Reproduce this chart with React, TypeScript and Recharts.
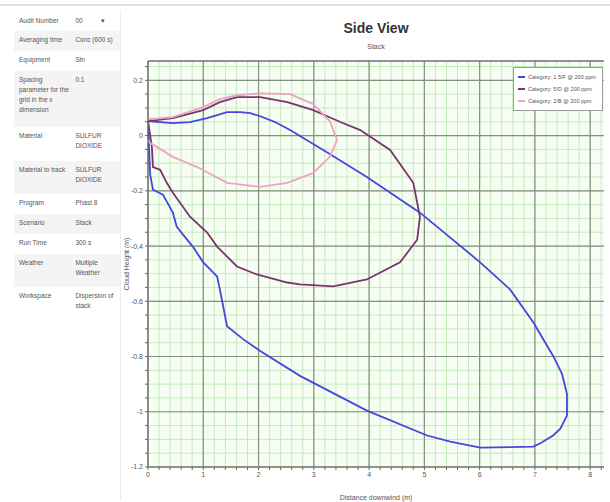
import React from "react";
import { LineChart, Line, XAxis, YAxis, CartesianGrid, ReferenceLine, Label } from "recharts";

// plume outline, category 1 (blue)
const blueX = [0, 0.22, 0.45, 0.76, 1.07, 1.43, 1.67, 1.85, 2.03, 2.3, 2.57, 3.17, 3.96, 4.92, 6.01, 6.55, 6.97, 7.33, 7.49, 7.58, 7.58, 7.46, 7.33, 7.09, 6.97, 6.01, 5.47, 5.05, 3.96, 2.75, 2.03, 1.72, 1.43, 1.3, 1.25, 1.0, 0.81, 0.52, 0.45, 0.27, 0.09, 0.04, 0.02, 0];
const blueY = [0.052, 0.049, 0.045, 0.049, 0.063, 0.085, 0.085, 0.081, 0.07, 0.049, 0.02, -0.052, -0.15, -0.279, -0.459, -0.557, -0.676, -0.798, -0.863, -0.935, -1.014, -1.061, -1.086, -1.115, -1.126, -1.13, -1.108, -1.086, -0.996, -0.87, -0.78, -0.737, -0.69, -0.557, -0.51, -0.459, -0.402, -0.33, -0.279, -0.214, -0.196, -0.142, -0.052, 0.052];

// category 2 (purple)
const purpleX = [0, 0.45, 1.0, 1.3, 1.61, 2.03, 2.52, 2.99, 3.48, 3.84, 4.38, 4.8, 4.92, 4.87, 4.56, 3.96, 3.35, 2.75, 2.52, 1.97, 1.61, 1.25, 1.07, 0.76, 0.45, 0.34, 0.22, 0.09, 0.07, 0];
const purpleY = [0.052, 0.063, 0.092, 0.121, 0.139, 0.139, 0.121, 0.092, 0.049, 0.02, -0.052, -0.171, -0.294, -0.377, -0.459, -0.521, -0.546, -0.539, -0.532, -0.503, -0.474, -0.402, -0.351, -0.294, -0.207, -0.171, -0.124, -0.114, -0.041, 0.052];

// category 3 (pink)
const pinkX = [0, 0.45, 1.0, 1.3, 1.61, 2.03, 2.57, 2.99, 3.29, 3.42, 3.29, 2.99, 2.52, 2.03, 1.43, 0.89, 0.45, 0.16, 0.04, 0];
const pinkY = [0.059, 0.067, 0.103, 0.132, 0.146, 0.153, 0.15, 0.114, 0.052, -0.016, -0.077, -0.135, -0.171, -0.186, -0.171, -0.114, -0.077, -0.041, -0.027, -0.016];

const seriesNames = ["Category: 1.5/F @ 200 ppm", "Category: 5/D @ 200 ppm", "Category: 2/B @ 200 ppm"];
const seriesColors = ["#4646dc", "#7a3470", "#eea3c4"];

const xMajor = [0, 1, 2, 3, 4, 5, 6, 7, 8];
const yMajor = [0.2, 0, -0.2, -0.4, -0.6, -0.8, -1, -1.2];

const panelRows = [
  ["Audit Number", "00"],
  ["Averaging time", "Conc (600 s)"],
  ["Equipment", "Stn"],
  ["Spacing parameter for the grid in the x dimension", "0.1"],
  ["Material", "SULFUR DIOXIDE"],
  ["Material to track", "SULFUR DIOXIDE"],
  ["Program", "Phast 8"],
  ["Scenario", "Stack"],
  ["Run Time", "300 s"],
  ["Weather", "Multiple Weather"],
  ["Workspace", "Dispersion of stack"],
];
const rowHeights = [19, 20, 20, 56, 34, 33, 20, 20, 20, 33, 32];

const toPoints = (xs: number[], ys: number[]) => xs.map((x, i) => ({ x, y: ys[i] }));
const series = [toPoints(blueX, blueY), toPoints(purpleX, purpleY), toPoints(pinkX, pinkY)];

// minor grid every 0.2 on x, 0.05 on y
const xTicks: number[] = [];
for (let i = 0; i <= 41; i++) xTicks.push(Math.round(i * 0.2 * 100) / 100);
const yTicks: number[] = [];
for (let i = 0; i <= 29; i++) yTicks.push(Math.round((-1.2 + i * 0.05) * 100) / 100);

const isMajorX = (v: number) => Math.abs(v - Math.round(v)) < 1e-6;
const isMajorY = (v: number) => Math.abs(v * 5 - Math.round(v * 5)) < 1e-6;

const font = "'Liberation Sans', Arial, sans-serif";

function SideLegend() {
  return (
    <div style={{ border: "1px solid #9a9a9a", background: "#fff", padding: "3px 4px", fontFamily: font, fontSize: 5.5, color: "#555", lineHeight: "12px", whiteSpace: "nowrap", width: 80 }}>
      {seriesNames.map((n, i) => (
        <div key={n} style={{ display: "flex", alignItems: "center" }}>
          <span style={{ display: "inline-block", width: 7, height: 2, background: seriesColors[i], marginRight: 3 }} />
          {n}
        </div>
      ))}
    </div>
  );
}

export default function App() {
  return (
    <div style={{ position: "absolute", left: 0, top: 0, width: 610, height: 502, background: "#fff", fontFamily: font, overflow: "hidden" }}>
      <div style={{ position: "absolute", left: 0, top: 4, width: 610, height: 2, background: "#dedede" }} />
      <div style={{ position: "absolute", left: 14, top: 12, width: 106, fontSize: 6.5, color: "#555", lineHeight: "10px" }}>
        {panelRows.map((r, i) => (
          <div key={r[0]} style={{ display: "flex", height: rowHeights[i], background: i % 2 === 1 ? "#f4f4f4" : "#fff", paddingTop: 4, boxSizing: "border-box" }}>
            <div style={{ width: 54, paddingLeft: 5 }}>{r[0]}</div>
            <div style={{ width: 46, paddingLeft: 4 }}>{r[1]}{i === 0 ? <span style={{ marginLeft: 18 }}>▾</span> : null}</div>
          </div>
        ))}
      </div>
      <div style={{ position: "absolute", left: 120, top: 10, width: 1, height: 490, background: "#ececec" }} />
      <div style={{ position: "absolute", left: 148, top: 20, width: 456, textAlign: "center", fontSize: 14, fontWeight: "bold", color: "#333" }}>Side View</div>
      <div style={{ position: "absolute", left: 148, top: 43, width: 456, textAlign: "center", fontSize: 7, color: "#555" }}>Stack</div>
      <div style={{ position: "absolute", left: 100, top: 0 }}>
        <LineChart width={510} height={502} margin={{ top: 61, right: 6, bottom: 0, left: 28 }}>
          <CartesianGrid stroke="#c4ebbd" strokeWidth={1} fill="#f6fdf2" verticalValues={xTicks} horizontalValues={yTicks} />
          <XAxis
            type="number"
            dataKey="x"
            domain={[0, 8.25]}
            ticks={xTicks}
            interval={0}
            allowDataOverflow
            height={35}
            stroke="#666"
            tick={{ fontSize: 7, fill: "#555" }}
            tickSize={3}
            tickFormatter={(v: number) => (isMajorX(v) ? String(v) : "")}
          >
            <Label value="Distance downwind (m)" position="insideBottom" offset={2} style={{ fontSize: 7, fill: "#555" }} />
          </XAxis>
          <YAxis
            type="number"
            dataKey="y"
            domain={[-1.2, 0.27]}
            ticks={yTicks}
            interval={0}
            allowDataOverflow
            width={20}
            stroke="#666"
            tick={{ fontSize: 7, fill: "#555" }}
            tickSize={3}
            tickFormatter={(v: number) => (isMajorY(v) ? String(v) : "")}
          >
            <Label value="Cloud Height (m)" angle={-90} position="insideLeft" offset={-1} style={{ fontSize: 7, fill: "#555", textAnchor: "middle" }} />
          </YAxis>
          {xMajor.map((v) => (
            <ReferenceLine key={"mx" + v} x={v} stroke="#84917f" strokeWidth={1.2} />
          ))}
          {yMajor.map((v) => (
            <ReferenceLine key={"my" + v} y={v} stroke="#84917f" strokeWidth={1.2} />
          ))}
          <ReferenceLine y={0.27} stroke="#6f6f6f" strokeWidth={1.5} />
          {series.map((d, i) => (
            <Line
              key={seriesNames[i]}
              data={d}
              dataKey="y"
              name={seriesNames[i]}
              type="linear"
              stroke={seriesColors[i]}
              strokeWidth={1.8}
              dot={false}
              activeDot={false}
              isAnimationActive={false}
            />
          ))}
        </LineChart>
      </div>
      <div style={{ position: "absolute", left: 513, top: 67 }}>
        <SideLegend />
      </div>
    </div>
  );
}
